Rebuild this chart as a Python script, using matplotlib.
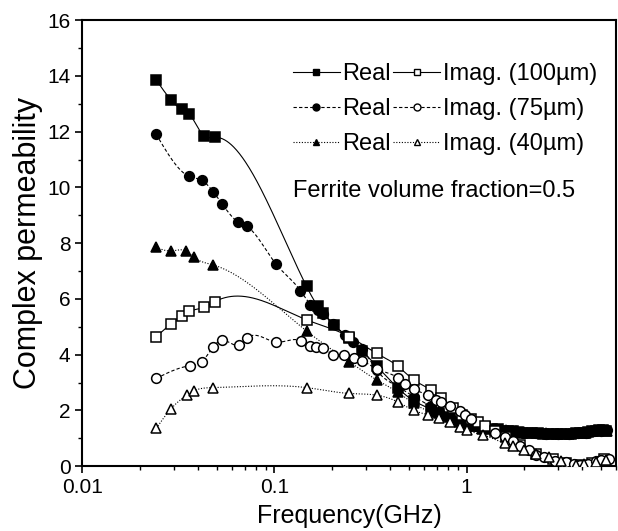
import numpy as np
import matplotlib
matplotlib.use("Agg")
import matplotlib.pyplot as plt
from matplotlib.lines import Line2D
from matplotlib.ticker import MultipleLocator, FixedLocator, FixedFormatter

plt.rcParams['font.family'] = ['Liberation Sans', 'DejaVu Sans']

# 100 um, real part (filled squares)
f_re100 = [0.0243, 0.0289, 0.033, 0.0359, 0.043, 0.0488, 0.147, 0.168, 0.18, 0.205,
           0.245, 0.285, 0.34, 0.44, 0.53, 0.65, 0.72, 0.82, 0.92, 1.02, 1.12, 1.25,
           1.35, 1.45, 1.55, 1.65, 1.75, 1.85, 1.95, 2.05, 2.2, 2.35, 2.5, 2.65, 2.8,
           2.95, 3.1, 3.3, 3.5, 3.7, 3.9, 4.1, 4.3, 4.5, 4.7, 4.9, 5.1, 5.3]
re100 = [13.85, 13.15, 12.8, 12.65, 11.85, 11.8, 6.45, 5.75, 5.5, 5.05,
         4.6, 4.15, 3.6, 2.8, 2.35, 2.05, 1.9, 1.75, 1.6, 1.5, 1.45, 1.4,
         1.35, 1.32, 1.28, 1.25, 1.25, 1.22, 1.2, 1.2, 1.18, 1.18, 1.15, 1.15, 1.15,
         1.15, 1.15, 1.15, 1.15, 1.18, 1.18, 1.2, 1.22, 1.25, 1.28, 1.3, 1.3, 1.25]

# 100 um, imaginary part (open squares)
f_im100 = [0.0243, 0.0289, 0.033, 0.0359, 0.043, 0.0488, 0.147, 0.245, 0.34, 0.44,
           0.53, 0.65, 0.74, 0.85, 0.95, 1.05, 1.15, 1.25, 1.4, 1.6, 1.9, 2.3, 2.8,
           3.3, 3.9, 4.5, 5.2]
im100 = [4.65, 5.1, 5.4, 5.55, 5.7, 5.9, 5.25, 4.65, 4.05, 3.58,
         3.1, 2.75, 2.45, 2.1, 1.85, 1.7, 1.6, 1.45, 1.25, 1.05, 0.75, 0.45, 0.25,
         0.12, 0.05, 0.12, 0.25]

# 75 um, real part (filled circles)
f_re75 = [0.0243, 0.0359, 0.042, 0.048, 0.0536, 0.065, 0.072, 0.102, 0.1365, 0.154,
          0.168, 0.179, 0.202, 0.234, 0.257, 0.286, 0.34, 0.44, 0.53, 0.65, 0.72,
          0.82, 0.92, 1.02, 1.12, 1.25, 1.4, 1.6, 1.8, 2.0, 2.3, 2.6, 3.0, 3.4, 3.8,
          4.2, 4.6, 5.0, 5.4]
re75 = [11.9, 10.4, 10.25, 9.85, 9.4, 8.75, 8.6, 7.25, 6.3, 5.8,
        5.6, 5.45, 5.1, 4.7, 4.45, 4.2, 3.45, 2.85, 2.5, 2.15, 1.95,
        1.75, 1.6, 1.5, 1.45, 1.4, 1.3, 1.25, 1.22, 1.2, 1.18, 1.15, 1.15, 1.15, 1.18,
        1.2, 1.25, 1.28, 1.3]

# 75 um, imaginary part (open circles)
f_im75 = [0.0243, 0.0363, 0.042, 0.048, 0.0536, 0.0655, 0.072, 0.102, 0.137, 0.153,
          0.164, 0.178, 0.203, 0.23, 0.258, 0.285, 0.34, 0.44, 0.48, 0.53, 0.63, 0.69,
          0.74, 0.82, 0.92, 0.98, 1.05, 1.4, 1.58, 1.74, 1.9, 2.1, 2.3, 2.53, 2.9,
          3.3, 3.6, 3.9, 4.3, 4.7, 5.0, 5.5]
im75 = [3.15, 3.6, 3.75, 4.28, 4.52, 4.36, 4.6, 4.45, 4.5, 4.31,
        4.28, 4.25, 4.0, 4.0, 3.89, 3.79, 3.49, 3.16, 2.94, 2.76, 2.54, 2.39,
        2.3, 2.15, 1.97, 1.82, 1.7, 1.18, 1.06, 0.9, 0.72, 0.57, 0.39, 0.33, 0.2,
        0.15, 0.08, 0.03, 0.08, 0.18, 0.23, 0.27]

# 40 um, real part (filled triangles)
f_re40 = [0.0243, 0.0289, 0.0346, 0.038, 0.048, 0.147, 0.245, 0.34, 0.44, 0.53,
          0.65, 0.75, 0.85, 0.95, 1.05, 1.2, 1.4, 1.6, 1.8, 2.0, 2.3, 2.6, 3.0, 3.4,
          3.8, 4.2, 4.6, 5.0, 5.4]
re40 = [7.85, 7.72, 7.72, 7.5, 7.22, 4.85, 3.75, 3.1, 2.65, 2.25,
        1.95, 1.8, 1.65, 1.5, 1.45, 1.35, 1.3, 1.3, 1.25, 1.22, 1.2, 1.18, 1.15, 1.15,
        1.18, 1.2, 1.25, 1.3, 1.25]

# 40 um, imaginary part (open triangles)
f_im40 = [0.0243, 0.0289, 0.035, 0.038, 0.048, 0.147, 0.245, 0.34, 0.44, 0.53,
          0.63, 0.72, 0.82, 0.92, 1.0, 1.22, 1.58, 1.74, 2.0, 2.3, 2.7, 3.1, 3.7,
          4.1, 4.7, 5.3]
im40 = [1.36, 2.05, 2.55, 2.7, 2.82, 2.82, 2.61, 2.55, 2.3, 2.0,
        1.85, 1.73, 1.57, 1.42, 1.3, 1.12, 0.82, 0.72, 0.57, 0.45, 0.33, 0.2, 0.06,
        0.08, 0.15, 0.23]

imag_labels = ['Imag. (100\u00b5m)', 'Imag. (75\u00b5m)', 'Imag. (40\u00b5m)']


def spline(x, y, n=600):
  """Natural cubic spline through the points, in log10(x)."""
  t = np.log10(np.asarray(x, dtype=float))
  y = np.asarray(y, dtype=float)
  m = len(t)
  h = np.diff(t)
  A = np.zeros((m, m))
  b = np.zeros(m)
  A[0, 0] = A[-1, -1] = 1.0
  for i in range(1, m - 1):
    A[i, i - 1] = h[i - 1]
    A[i, i] = 2 * (h[i - 1] + h[i])
    A[i, i + 1] = h[i]
    b[i] = 6 * ((y[i + 1] - y[i]) / h[i] - (y[i] - y[i - 1]) / h[i - 1])
  M = np.linalg.solve(A, b)
  tt = np.linspace(t[0], t[-1], n)
  k = np.clip(np.searchsorted(t, tt) - 1, 0, m - 2)
  dx1 = t[k + 1] - tt
  dx0 = tt - t[k]
  hk = h[k]
  yy = (M[k] * dx1 ** 3 + M[k + 1] * dx0 ** 3) / (6 * hk) \
      + (y[k] / hk - M[k] * hk / 6) * dx1 + (y[k + 1] / hk - M[k + 1] * hk / 6) * dx0
  return 10 ** tt, yy


fig = plt.figure(figsize=(6.18, 5.31), dpi=100)
ax = fig.add_axes([0.133, 0.122, 0.864, 0.840])

line_styles = {'100': '-', '75': (0, (3, 2)), '40': (0, (1, 1.5))}
series = [
  (f_re100, re100, 's', 'k', '100'),
  (f_re75, re75, 'o', 'k', '75'),
  (f_re40, re40, '^', 'k', '40'),
  (f_im100, im100, 's', 'w', '100'),
  (f_im75, im75, 'o', 'w', '75'),
  (f_im40, im40, '^', 'w', '40'),
]

handles = []
for fx, vals, mk, face, key in series:
  xs, ys = spline(fx, vals)
  ax.plot(xs, ys, color='k', lw=0.8, ls=line_styles[key], zorder=2)
  ax.plot(fx, vals, ls='none', marker=mk, ms=7, mfc=face, mec='k', mew=1.1, zorder=3)
  handles.append(Line2D([], [], color='k', lw=0.8, ls=line_styles[key], marker=mk,
                        ms=5, mfc=face, mec='k', mew=1.0))

ax.set_xscale('log')
ax.set_xlim(0.01, 6.0)
ax.set_ylim(0, 16)
ax.yaxis.set_major_locator(MultipleLocator(2))
ax.yaxis.set_minor_locator(MultipleLocator(1))
ax.xaxis.set_major_locator(FixedLocator([0.01, 0.1, 1]))
ax.xaxis.set_major_formatter(FixedFormatter(['0.01', '0.1', '1']))
ax.tick_params(which='major', length=5, width=1.2, labelsize=15)
ax.tick_params(which='minor', length=3, width=1.0)
for sp in ax.spines.values():
  sp.set_linewidth(1.5)

ax.set_xlabel('Frequency(GHz)', fontsize=18, labelpad=5)
ax.set_ylabel('Complex permeability', fontsize=22, labelpad=3)

ax.legend(handles, ['Real', 'Real', 'Real'] + imag_labels, ncol=2,
          loc='upper right', bbox_to_anchor=(0.995, 0.94), frameon=False,
          fontsize=17, handlelength=2.0, handletextpad=0.1, columnspacing=0.1,
          labelspacing=0.55, borderpad=0.2)

ax.text(0.923, 0.617, 'Ferrite volume fraction=0.5', transform=ax.transAxes,
        ha='right', va='center', fontsize=17)

fig.savefig('out.png', dpi=100)
